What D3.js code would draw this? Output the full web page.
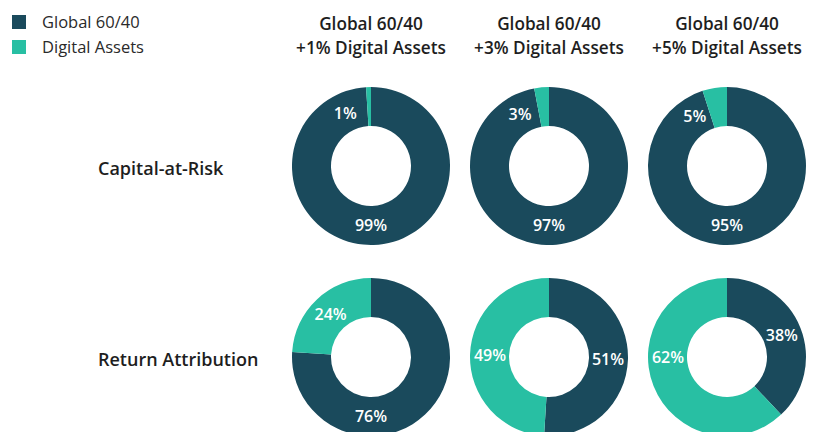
<!DOCTYPE html>
<html lang="en">
<head>
  <meta charset="UTF-8">
  <title>Capital-at-Risk and Return Attribution</title>
  <script src="https://d3js.org/d3.v7.min.js"></script>
  <style>
    body {
      margin: 0;
      background: #fff;
      font-family: "Open Sans", Lato, sans-serif;
    }
    svg { display: block; }
  </style>
</head>
<body>
  <div id="chart"></div>

  <script>
    const seriesNames = ["Global 60/40", "Digital Assets"];
    const columnTitles = [
      ["Global 60/40", "+1% Digital Assets"],
      ["Global 60/40", "+3% Digital Assets"],
      ["Global 60/40", "+5% Digital Assets"]
    ];
    const rowNames = ["Capital-at-Risk", "Return Attribution"];
    // share of each row/column, in %
    const globalShare = [[99, 97, 95], [76, 51, 38]];
    const digitalShare = [[1, 3, 5], [24, 49, 62]];

    const colors = ["#1a4a5c", "#28bfa3"];
    const width = 828, height = 432;
    const outerR = 79, innerR = 40, labelR = 59;

    const x = d3.scalePoint().domain(d3.range(columnTitles.length)).range([371, 727]);
    const y = d3.scalePoint().domain(d3.range(rowNames.length)).range([166, 357]);
    const color = d3.scaleOrdinal().domain(seriesNames).range(colors);

    const svg = d3.select("#chart").append("svg")
      .attr("width", width)
      .attr("height", height);

    // legend
    const legend = svg.append("g");
    seriesNames.forEach((name, i) => {
      const g = legend.append("g").attr("transform", `translate(12,${15 + i * 25})`);
      g.append("rect").attr("width", 14).attr("height", 14).attr("fill", color(name));
      g.append("text")
        .attr("x", 30).attr("y", 13)
        .attr("font-size", 16.5)
        .attr("fill", "#2a2a2a")
        .text(name);
    });

    // column titles
    columnTitles.forEach((lines, c) => {
      const t = svg.append("text")
        .attr("text-anchor", "middle")
        .attr("font-size", 17.2)
        .attr("font-weight", 600)
        .attr("fill", "#1e1e1e");
      lines.forEach((line, k) => {
        t.append("tspan").attr("x", x(c)).attr("y", 29.5 + k * 24).text(line);
      });
    });

    // row labels
    rowNames.forEach((name, r) => {
      svg.append("text")
        .attr("x", 98).attr("y", y(r) + 9)
        .attr("font-size", 18)
        .attr("font-weight", 600)
        .attr("fill", "#1e1e1e")
        .text(name);
    });

    const pie = d3.pie().sort(null).value(d => d.value);
    const arc = d3.arc().innerRadius(innerR).outerRadius(outerR);

    // where each label sits around the ring
    function labelAngle(d) {
      const mid = (d.startAngle + d.endAngle) / 2;
      const share = d.data.value / 100;
      if (d.data.name === seriesNames[0]) {
        return share > 0.6 ? Math.PI : mid;
      }
      if (share < 0.1) return mid - 0.42;
      if (share > 0.55) return Math.PI * 1.5;
      return mid;
    }

    rowNames.forEach((rowName, r) => {
      columnTitles.forEach((col, c) => {
        const data = [
          { name: seriesNames[0], value: globalShare[r][c] },
          { name: seriesNames[1], value: digitalShare[r][c] }
        ];
        const g = svg.append("g").attr("transform", `translate(${x(c)},${y(r)})`);
        const slices = pie(data);

        g.selectAll("path")
          .data(slices)
          .enter().append("path")
            .attr("d", arc)
            .attr("fill", d => color(d.data.name));

        g.selectAll("text")
          .data(slices)
          .enter().append("text")
            .attr("x", d => Math.sin(labelAngle(d)) * labelR)
            .attr("y", d => -Math.cos(labelAngle(d)) * labelR)
            .attr("dy", "0.36em")
            .attr("text-anchor", "middle")
            .attr("font-size", 16)
            .attr("font-weight", 600)
            .attr("fill", "#fff")
            .text(d => d.data.value + "%");
      });
    });
  </script>
</body>
</html>
